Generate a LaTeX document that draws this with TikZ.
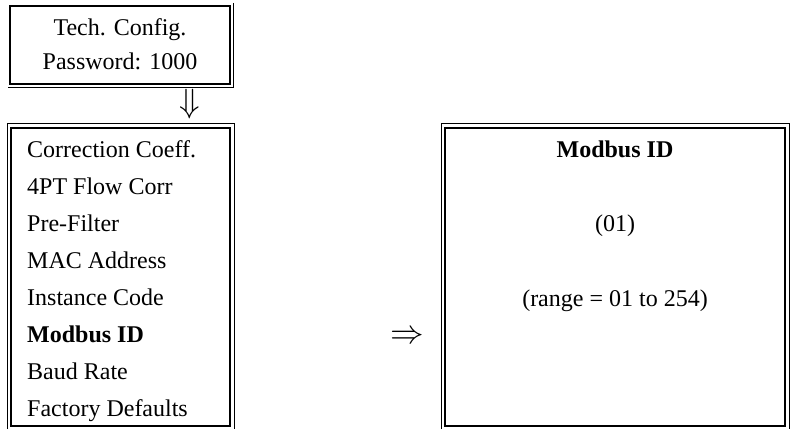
\documentclass[tikz,border=0pt]{standalone}
\usepackage{fontspec}
\setmainfont{Liberation Serif}
\usetikzlibrary{positioning}

\tikzset{
  thickline/.style={line width=2.6pt},
  thinline/.style={line width=1pt},
  menutext/.style={font=\fontsize{24}{34}\selectfont, inner sep=0pt},
  arrowtext/.style={font=\fontsize{24}{24}\selectfont, inner sep=0pt, scale=1.35},
}

\begin{document}
\begin{tikzpicture}[x=1pt, y=1pt]
  \useasboundingbox (0,0) rectangle (790,429);
  % Password box (top)
  \draw[thickline] (10,423) rectangle (230,345);
  \draw[thinline] (233,426) -- (233,341.5) -- (8,341.5);
  \node[menutext, anchor=base] (title) at (120,393) {Tech. Config.};
  \node[menutext, anchor=base] (pwd) at (120,359) {Password: 1000};
  % Down arrow
  \node[arrowtext] (down) at (190,325) {$\Downarrow$};
  % Menu box (left)
  \draw[thickline] (11,301) rectangle (230,3);
  \draw[thinline] (7,0) -- (7,305) -- (234,305) -- (234,0);
  \foreach \t [count=\i] in {Correction Coeff., 4PT Flow Corr, Pre-Filter,
      MAC Address, Instance Code, \textbf{Modbus ID}, Baud Rate, Factory Defaults} {
    \node[menutext, anchor=base west] (item\i) at (27, 271 - 36.9*\i + 36.9) {\t};
  }
  % Right arrow
  \node[arrowtext] (right) at (407,92) {$\Rightarrow$};
  % Value box (right)
  \draw[thickline] (445,301) rectangle (785,3);
  \draw[thinline] (441,0) -- (441,305) -- (789,305) -- (789,0);
  \node[menutext, anchor=base, font=\fontsize{24}{34}\selectfont\bfseries] (id) at (615,271) {Modbus ID};
  \node[menutext, anchor=base] (val) at (615,197) {(01)};
  \node[menutext, anchor=base] (range) at (615,123) {(range = 01 to 254)};
\end{tikzpicture}
\end{document}
